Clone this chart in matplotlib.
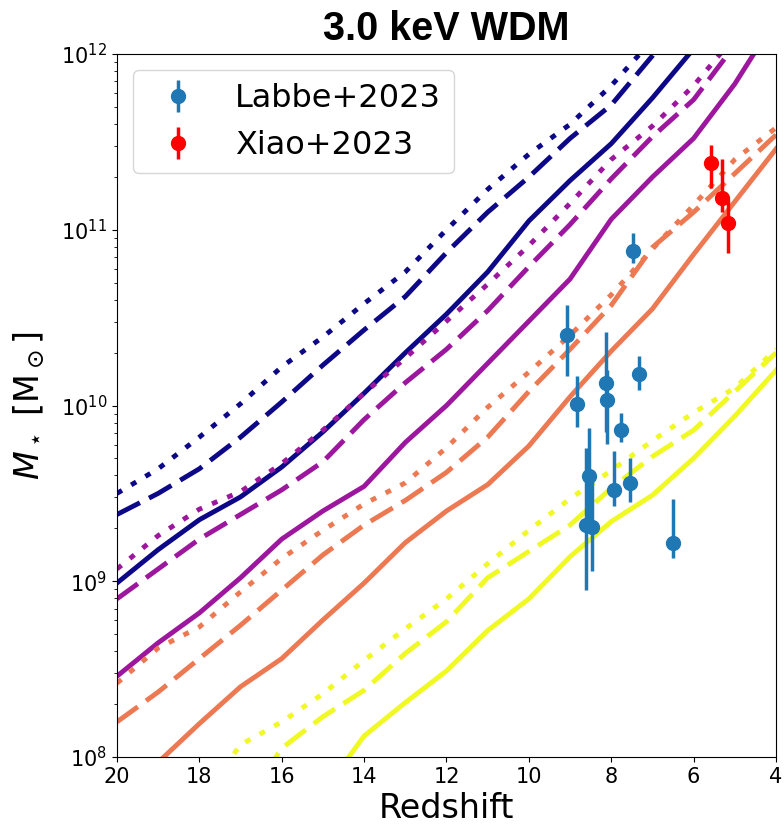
import numpy as np
import matplotlib
matplotlib.use('Agg')
import matplotlib.pyplot as plt

# redshift grid of the model curves
redshift = [20, 19, 18, 17, 16, 15, 14, 13, 12, 11, 10, 9, 8, 7, 6, 5, 4]

# log10 stellar mass of the model curves (solid / dashed / dotted per colour)
navy_solid = [8.99, 9.18, 9.35, 9.48, 9.65, 9.85, 10.07, 10.30, 10.52, 10.76, 11.05, 11.28, 11.49, 11.75, 12.03, 12.4, 12.8]
navy_dashed = [9.38, 9.50, 9.64, 9.82, 10.02, 10.23, 10.43, 10.62, 10.87, 11.10, 11.30, 11.52, 11.71, 11.99, 12.3, 12.6, 12.9]
navy_dotted = [9.50, 9.64, 9.82, 10.01, 10.22, 10.39, 10.58, 10.76, 11.00, 11.23, 11.43, 11.60, 11.82, 12.08, 12.35, 12.6, 12.9]
purple_solid = [8.46, 8.65, 8.82, 9.02, 9.24, 9.40, 9.54, 9.79, 10.00, 10.24, 10.48, 10.72, 11.06, 11.30, 11.52, 11.83, 12.2]
purple_dashed = [8.90, 9.07, 9.24, 9.38, 9.52, 9.68, 9.92, 10.13, 10.32, 10.54, 10.79, 11.03, 11.29, 11.53, 11.74, 12.05, 12.35]
purple_dotted = [9.07, 9.26, 9.41, 9.51, 9.67, 9.86, 10.07, 10.27, 10.48, 10.69, 10.91, 11.15, 11.40, 11.59, 11.82, 12.1, 12.4]
coral_solid = [7.55, 7.97, 8.19, 8.40, 8.56, 8.78, 8.99, 9.22, 9.40, 9.55, 9.77, 10.05, 10.31, 10.55, 10.86, 11.16, 11.46]
coral_dashed = [8.20, 8.37, 8.56, 8.75, 8.95, 9.15, 9.32, 9.46, 9.62, 9.82, 10.08, 10.32, 10.57, 10.90, 11.10, 11.32, 11.54]
coral_dotted = [8.42, 8.62, 8.74, 8.94, 9.13, 9.29, 9.44, 9.56, 9.76, 9.99, 10.19, 10.40, 10.63, 10.89, 11.14, 11.40, 11.58]
yellow_solid = [6.0, 6.3, 6.6, 6.95, 7.35, 7.80, 8.12, 8.31, 8.49, 8.72, 8.90, 9.14, 9.34, 9.49, 9.70, 9.94, 10.20]
yellow_dashed = [6.8, 7.1, 7.4, 7.7, 8.05, 8.23, 8.38, 8.59, 8.77, 9.02, 9.17, 9.32, 9.53, 9.71, 9.86, 10.08, 10.30]
yellow_dotted = [7.15, 7.45, 7.75, 8.07, 8.20, 8.36, 8.55, 8.73, 8.90, 9.10, 9.29, 9.47, 9.63, 9.80, 9.96, 10.10, 10.32]

# observations (log10 M, with upper / lower bounds)
labbe_z = [9.08, 8.83, 8.13, 8.10, 7.33, 7.77, 8.55, 8.62, 8.47, 7.93, 7.55, 6.50, 7.47]
labbe_logm = [10.40, 10.01, 10.13, 10.03, 10.18, 9.86, 9.60, 9.32, 9.31, 9.52, 9.56, 9.22, 10.88]
labbe_logm_hi = [10.57, 10.17, 10.42, 10.20, 10.28, 9.96, 9.87, 9.76, 9.60, 9.74, 9.70, 9.47, 10.98]
labbe_logm_lo = [10.17, 9.88, 9.85, 9.78, 10.09, 9.79, 9.30, 8.95, 9.06, 9.43, 9.45, 9.13, 10.81]

xiao_z = [5.58, 5.31, 5.16]
xiao_logm = [11.38, 11.18, 11.04]
xiao_logm_hi = [11.48, 11.40, 11.17]
xiao_logm_lo = [11.24, 11.10, 10.87]

colors = plt.cm.plasma(np.linspace(0, 1, 4))
groups = [
    (navy_solid, navy_dashed, navy_dotted),
    (purple_solid, purple_dashed, purple_dotted),
    (coral_solid, coral_dashed, coral_dotted),
    (yellow_solid, yellow_dashed, yellow_dotted),
]
styles = ['-', (0, (5.3, 2.1)), (0, (1.2, 2.2))]

fig = plt.figure(figsize=(7.84, 8.32), dpi=100)
ax = fig.add_axes([0.1492, 0.0901, 0.8406, 0.845])

for col, group in zip(colors, groups):
    for vals, ls in zip(group, styles):
        ax.plot(redshift, 10 ** np.array(vals), color=col, ls=ls, lw=3.5)


def plot_obs(z, logm, hi, lo, color, label):
    m = 10 ** np.array(logm)
    yerr = [m - 10 ** np.array(lo), 10 ** np.array(hi) - m]
    ax.errorbar(z, m, yerr=yerr, fmt='o', color=color, ms=10, elinewidth=2.5,
                label=label, zorder=5)


plot_obs(labbe_z, labbe_logm, labbe_logm_hi, labbe_logm_lo, '#1f77b4', 'Labbe+2023')
plot_obs(xiao_z, xiao_logm, xiao_logm_hi, xiao_logm_lo, 'red', 'Xiao+2023')

ax.set_yscale('log')
ax.set_xlim(20, 4)
ax.set_ylim(1e8, 1e12)
ax.set_xticks([20, 18, 16, 14, 12, 10, 8, 6, 4])
ax.tick_params(labelsize=15)
ax.set_xlabel('Redshift', fontsize=24)
ax.set_ylabel(r'$M_\star\ [\mathrm{M}_\odot]$', fontsize=24, labelpad=10)
ax.set_title('3.0 keV WDM', fontsize=28.5, fontweight='bold',
             family='Liberation Sans', pad=10)
ax.legend(loc='upper left', fontsize=23)

fig.savefig('out.png', dpi=100)
